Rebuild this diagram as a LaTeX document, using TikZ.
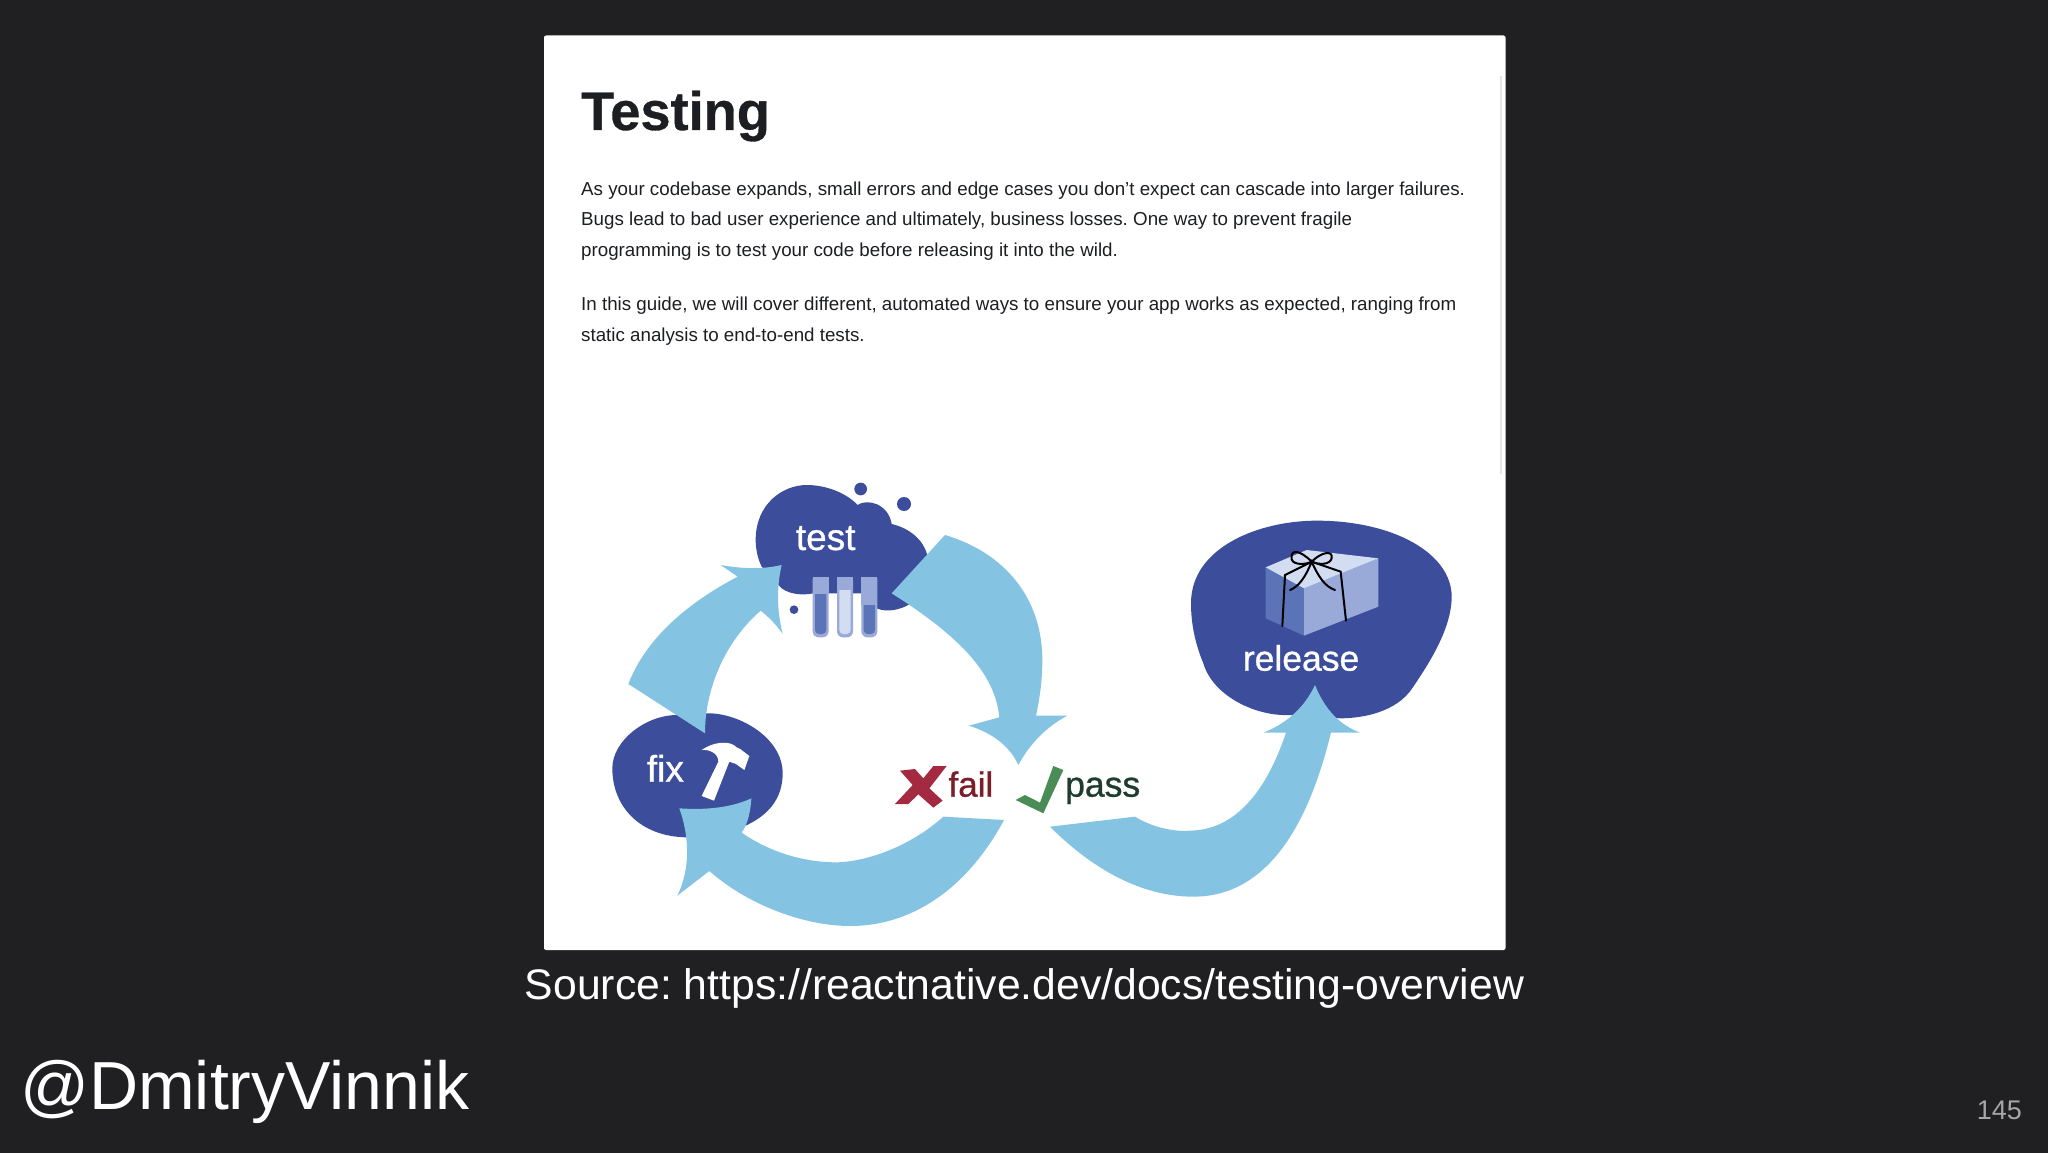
\documentclass[tikz,border=0pt]{standalone}
\usepackage{fontspec}
\setmainfont{Liberation Sans}
\newfontfamily\mediumfont[RawFeature={embolden=0.8}]{Liberation Sans}
\newfontfamily\heavyfont[RawFeature={embolden=0.6}]{Liberation Sans Bold}
\definecolor{slidebg}{HTML}{202022}
\definecolor{flowblue}{HTML}{84C4E2}
\definecolor{blobblue}{HTML}{3B4D9B}
\definecolor{midblue}{HTML}{5B74B8}
\definecolor{softblue}{HTML}{99A9D8}
\definecolor{paleblue}{HTML}{D3DDF2}
\definecolor{inkdark}{HTML}{1C1E21}
\definecolor{failred}{HTML}{A32A40}
\definecolor{failtext}{HTML}{7A1E28}
\definecolor{passgreen}{HTML}{4A8C55}
\definecolor{passtext}{HTML}{1F3D2E}
\tikzset{
	bodytext/.style={anchor=base west, inner sep=0pt, text=inkdark, font=\frenchspacing\fontsize{18.75}{22}\selectfont},
	bloblabel/.style={anchor=base west, inner sep=0pt, text=white, font=\mediumfont\fontsize{37}{40}\selectfont},
	flow/.style={fill=flowblue},
	blob/.style={fill=blobblue},
	ribbon/.style={draw=black, line width=2pt, line cap=round}
}
\begin{document}
\begin{tikzpicture}[x=1pt,y=-1pt]
		\useasboundingbox (0,0) rectangle (2048,1153);
		\fill[slidebg] (0,0) rectangle (2048,1153);
		\fill[white, rounded corners=2pt] (544,35.5) rectangle (1505.5,950);
		\fill[black!10] (1499.5,76) rectangle (1502,474);

		\node (title) [anchor=base west, inner sep=0pt, text=inkdark, font=\heavyfont\fontsize{54.2}{58}\selectfont] at (581,130) {Testing};
		\node (lineone) [bodytext] at (581,195) {As your codebase expands, small errors and edge cases you don’t expect can cascade into larger failures.};
		\node (linetwo) [bodytext] at (581,225.5) {Bugs lead to bad user experience and ultimately, business losses. One way to prevent fragile};
		\node (linethree) [bodytext] at (581,256) {programming is to test your code before releasing it into the wild.};
		\node (linefour) [bodytext] at (581,310.5) {In this guide, we will cover different, automated ways to ensure your app works as expected, ranging from};
		\node (linefive) [bodytext] at (581,341) {static analysis to end-to-end tests.};

		\node (source) [anchor=base, inner sep=0pt, text=white, font=\frenchspacing\fontsize{42.7}{46}\selectfont] at (1024.5,999) {Source: https://reactnative.dev/docs/testing-overview};
		\node (handle) [anchor=base west, inner sep=0pt, text=white, font=\fontsize{68}{72}\selectfont] at (20,1109) {@DmitryVinnik};
		\node (pagenum) [anchor=base east, inner sep=0pt, text=black!35!white, font=\fontsize{27}{30}\selectfont] at (2022,1119) {145};

		\begin{scope}[shift={(590,460)},scale=1/3]
			% test cloud
			\fill[blob] (497,240) .. controls (497,130) and (580,75) .. (650,75) .. controls (710,75) and (770,100) .. (803,135) .. controls (830,115) and (895,130) .. (905,192) .. controls (960,205) and (1000,240) .. (1012,285) -- (1000,400) -- (960,432) .. controls (930,450) and (890,458) .. (860,445) -- (860,400) -- (670,400) .. controls (620,410) and (570,395) .. (560,365) -- (515,320) .. controls (505,300) and (497,270) .. (497,240) -- cycle;
			\foreach \cx/\cy/\cr in {812/87/19, 942/132/21, 612/449/13} {
				\fill[blob] (\cx,\cy) circle [radius=\cr];
			}
			% tubes
			\foreach \tx/\ty/\tcol in {668/403/midblue, 741/390/paleblue, 814/435/midblue} {
				\fill[softblue, rounded corners=6pt] (\tx,340) -- (\tx,532) -- (\tx+48,532) -- (\tx+48,340) -- cycle;
				\fill[blob] (\tx-2,335) rectangle (\tx+50,350);
				\fill[\tcol, rounded corners=4pt] (\tx+7,\ty-20) -- (\tx+7,522) -- (\tx+41,522) -- (\tx+41,\ty-20) -- cycle;
				\fill[softblue] (\tx,350) rectangle (\tx+48,\ty);
			}
			% fix blob
			\fill[blob] (67,925) .. controls (67,840) and (170,765) .. (260,765) -- (345,760) .. controls (440,755) and (578,830) .. (578,940) .. controls (578,1020) and (530,1070) .. (460,1100) -- (290,1132) .. controls (150,1130) and (67,1040) .. (67,925) -- cycle;
			\fill[white] (335,870) .. controls (370,845) and (420,840) .. (440,862) -- (452,868) -- (478,888) -- (463,930) -- (438,912) -- (418,905) -- (372,1022) -- (335,1008) -- (385,905) .. controls (385,880) and (360,868) .. (335,870) -- cycle;
			% flow arrows
			\fill[flow] (1065,225) .. controls (1250,280) and (1357,420) .. (1357,600) .. controls (1357,660) and (1350,710) .. (1338,767) -- (1432,767) .. controls (1370,800) and (1320,850) .. (1285,915) .. controls (1260,860) and (1210,820) .. (1137,797) -- (1228,772) .. controls (1215,640) and (1110,530) .. (905,400) -- cycle;
			\fill[flow] (115,672) -- (345,820) .. controls (345,680) and (410,540) .. (512,452) .. controls (535,470) and (560,495) .. (578,522) .. controls (560,450) and (560,380) .. (575,315) .. controls (510,330) and (450,325) .. (392,315) -- (443,350) .. controls (300,425) and (170,530) .. (115,672) -- cycle;
			\fill[flow] (1242,1080) -- (1060,1070) .. controls (960,1160) and (830,1205) .. (740,1207) .. controls (630,1207) and (530,1170) .. (455,1118) .. controls (475,1090) and (482,1050) .. (484,1015) .. controls (420,1045) and (340,1050) .. (268,1045) .. controls (295,1120) and (305,1220) .. (262,1307) -- (358,1233) .. controls (480,1340) and (650,1398) .. (780,1398) .. controls (980,1398) and (1140,1270) .. (1242,1080) -- cycle;
			% fail and pass marks
			\fill[failred] (930,932) -- (975,927) -- (1000,955) -- (1030,918) -- (1070,918) -- (1018,985) -- (1058,1022) -- (1030,1043) -- (985,1003) -- (955,1032) -- (915,1032) -- (968,975) -- cycle;
			\fill[passgreen] (1277,1020) -- (1305,1005) -- (1350,1028) -- (1390,918) -- (1420,930) -- (1360,1060) -- cycle;
			\node (test) [bloblabel] at (617,270) {test};
			\node (fix) [bloblabel] at (170,965) {fix};
			\node (fail) [anchor=base west, inner sep=0pt, text=failtext, font=\mediumfont\fontsize{35}{38}\selectfont] at (1075,1010) {fail};
		\end{scope}

		\begin{scope}[shift={(1000,480)},scale=1/3]
			% release blob
			\fill[blob] (573,370) .. controls (573,200) and (780,122) .. (950,122) .. controls (1180,122) and (1355,220) .. (1355,350) .. controls (1355,450) and (1280,560) .. (1240,620) .. controls (1190,700) and (1080,715) .. (1020,715) -- (870,705) .. controls (770,710) and (640,650) .. (610,550) .. controls (585,490) and (573,430) .. (573,370) -- cycle;
			\fill[midblue] (797,262) -- (912,325) -- (912,467) -- (797,415) -- cycle;
			\fill[softblue] (912,325) -- (1135,235) -- (1135,380) -- (912,467) -- cycle;
			\fill[paleblue] (797,262) -- (920,210) -- (1135,235) -- (912,325) -- cycle;
			\draw[ribbon] (847,438) -- (855,285) .. controls (885,270) and (915,255) .. (935,245) -- (1022,275) -- (1038,422);
			\draw[ribbon] (935,245) .. controls (900,210) and (870,205) .. (875,238) .. controls (880,255) and (915,255) .. (935,245) .. controls (965,215) and (1000,210) .. (995,235) .. controls (990,255) and (955,255) .. (935,245);
			\draw[ribbon] (870,330) .. controls (895,320) and (915,295) .. (935,245) .. controls (955,290) and (975,320) .. (1005,330);
			% pass arrow
			\fill[flow] (150,1040) -- (405,1010) .. controls (470,1050) and (540,1055) .. (570,1052) .. controls (690,1050) and (790,960) .. (858,758) -- (790,758) .. controls (850,735) and (910,690) .. (945,615) .. controls (975,690) and (1020,735) .. (1080,758) -- (993,758) .. controls (950,930) and (850,1250) .. (580,1250) .. controls (400,1250) and (250,1140) .. (150,1040) -- cycle;
			\node (release) [bloblabel, font=\mediumfont\fontsize{35.5}{38}\selectfont] at (728,572) {release};
			\node (pass) [anchor=base west, inner sep=0pt, text=passtext, font=\mediumfont\fontsize{35.5}{38}\selectfont] at (195,950) {pass};
		\end{scope}
	\end{tikzpicture}
\end{document}
